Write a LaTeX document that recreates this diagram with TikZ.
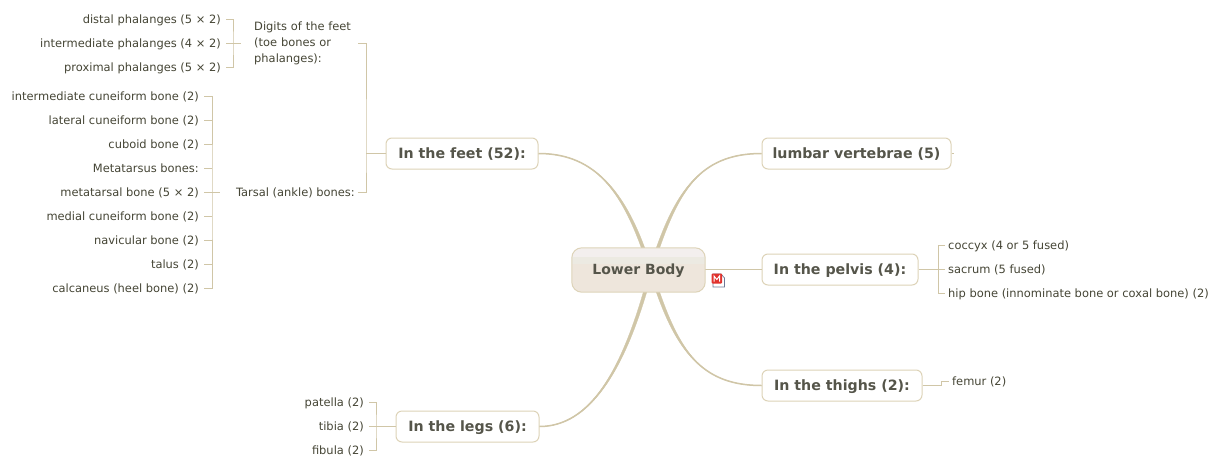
\documentclass[tikz,border=0pt]{standalone}
\usepackage{fontspec}
\setmainfont{DejaVu Sans}
\definecolor{lin}{HTML}{D0C6A7}
\definecolor{edge}{HTML}{DDD3B8}
\definecolor{txt}{HTML}{454535}
\definecolor{btxt}{HTML}{55554A}
\definecolor{rootfill}{RGB}{238,230,220}
\definecolor{roottop}{RGB}{243,239,238}
\definecolor{rootmid}{RGB}{236,234,226}
\definecolor{iconred}{RGB}{225,50,45}
\definecolor{iconedge}{RGB}{110,120,150}
\begin{document}
\begin{tikzpicture}[x=1pt,y=-1pt,
  leafl/.style={anchor=east,inner xsep=5pt,inner ysep=1pt,text=txt,text height=9.5pt,text depth=1pt,font=\fontsize{11.45}{14}\selectfont},
  leafr/.style={anchor=west,inner xsep=3pt,inner ysep=1pt,text=txt,text height=9.5pt,text depth=1pt,font=\fontsize{11.45}{14}\selectfont},
  topic/.style={draw=edge,line width=1pt,rounded corners=6pt,fill=white,text=btxt,inner sep=0pt,text height=11.5pt,text depth=1.5pt,minimum height=31pt,font=\bfseries\fontsize{14.2}{17}\selectfont},
  conn/.style={draw=lin,line width=1pt},
  curve/.style={draw=lin,line width=1.5pt},
  taper/.style={draw=lin,fill=lin,line width=0.3pt}]
\useasboundingbox (0,0) rectangle (1226,469);
\fill[white] (0,0) rectangle (1226,469);
% root
\node[minimum width=133pt,minimum height=44pt,inner sep=0pt] (root) at (638.5,270) {};
% topics
\node[topic,minimum width=189pt] (lumbar) at (856.5,153.5) {lumbar vertebrae (5)};
\node[topic,minimum width=156pt] (pelvis) at (840,269.5) {In the pelvis (4):};
\node[topic,minimum width=160pt] (thighs) at (842,385.5) {In the thighs (2):};
\node[topic,minimum width=152pt] (feet) at (462,153.5) {In the feet (52):};
\node[topic,minimum width=143pt] (legs) at (467.5,426.5) {In the legs (6):};
% curves
\draw[curve] ([xshift=4.5pt]root.north) .. controls (620,185) and (590,153.5) .. (feet.east);
\draw[curve] ([xshift=19.5pt]root.north) .. controls (680,185) and (705,153.5) .. (lumbar.west);
\draw[curve] ([xshift=19.5pt]root.south) .. controls (680,355) and (705,385.5) .. (thighs.west);
\draw[curve] ([xshift=6.5pt]root.south) .. controls (622,370) and (590,426.5) .. (legs.east);
\draw[taper] ([xshift=2.8pt]root.north) .. controls (618.5,185) and (590,153) .. (feet.east) .. controls (590,154) and (621.5,185) .. ([xshift=6.2pt]root.north) -- cycle;
\draw[taper] ([xshift=17.8pt]root.north) .. controls (678.5,185) and (705,154) .. (lumbar.west) .. controls (705,153) and (681.5,185) .. ([xshift=21.2pt]root.north) -- cycle;
\draw[taper] ([xshift=17.8pt]root.south) .. controls (678.5,355) and (705,385) .. (thighs.west) .. controls (705,386) and (681.5,355) .. ([xshift=21.2pt]root.south) -- cycle;
\draw[taper] ([xshift=4.8pt]root.south) .. controls (620.5,370) and (590,426) .. (legs.east) .. controls (590,427) and (623.5,370) .. ([xshift=8.2pt]root.south) -- cycle;
\draw[lin,line width=1.6pt] (root.east |- pelvis.west) -- (pelvis.west);
% root body
\begin{scope}
\clip[rounded corners=10pt] (root.north west) rectangle (root.south east);
\fill[rootfill] (root.north west) rectangle (root.south east);
\fill[roottop] (root.north west) rectangle ([yshift=-9pt]root.north east);
\fill[rootmid] ([yshift=-9pt]root.north west) rectangle ([yshift=-16pt]root.north east);
\end{scope}
\draw[edge,line width=1pt,rounded corners=10pt] (root.north west) rectangle (root.south east);
\node[text=btxt,font=\bfseries\fontsize{14}{17}\selectfont,inner sep=0pt,text height=11pt,text depth=1.5pt] (rootlabel) at (root.center) {Lower Body};
% icon
\draw[draw=iconedge,fill=white,line width=0.7pt] (713,274) -- (721,274) -- (724.5,278) -- (724.5,287) -- (713,287) -- cycle;
\fill[iconred,rounded corners=1pt] (711.5,273.5) rectangle (722,283.5);
\draw[white,line width=1pt] (714,281.5) -- (714,276) -- (716.8,279.5) -- (719.5,276) -- (719.5,281.5);
% right leaves
\node[leafr] (coccyx) at (945,245.5) {coccyx (4 or 5 fused)};
\node[leafr] (sacrum) at (945,269.5) {sacrum (5 fused)};
\node[leafr] (hip) at (945,293.5) {hip bone (innominate bone or coxal bone) (2)};
\node[leafr] (femur) at (949,381) {femur (2)};
\coordinate (lumbarend) at (954,153.5);
\draw[conn] (lumbar.east) -- (lumbarend);
\coordinate (pk) at (938,269.5);
\draw[conn] (coccyx.west) -| (pk) |- (hip.west);
\draw[conn] (pelvis.east) -- (sacrum.west);
\coordinate (fm) at (941,381);
\draw[conn] (thighs.east) -- (fm |- thighs.east) -- (fm) -- (femur.west);
% legs leaves
\node[leafl] (patella) at (369,402.5) {patella (2)};
\node[leafl] (tibia) at (369,426.5) {tibia (2)};
\node[leafl] (fibula) at (369,450.5) {fibula (2)};
\coordinate (lk) at (376,426.5);
\draw[conn] (patella.east) -| (lk) |- (fibula.east);
\draw[conn] (tibia.east) -- (legs.west);
% feet structure
\node[leafl,inner xsep=3pt] (tarsal) at (358,192) {Tarsal (ankle) bones:};
\node[anchor=west,inner sep=0pt,align=left,text=txt,font=\fontsize{11.45}{16}\selectfont,text width=104pt] (digits) at (254,43) {Digits of the feet\\(toe bones or\\phalanges):};
\coordinate (fk) at (366,153.5);
\draw[conn] (digits.east) -| (fk) |- (tarsal.east);
\draw[conn] (fk) -- (feet.west);
% digits leaves
\node[leafl] (d1) at (226,19) {distal phalanges (5 × 2)};
\node[leafl] (d2) at (226,43) {intermediate phalanges (4 × 2)};
\node[leafl] (d3) at (226,67) {proximal phalanges (5 × 2)};
\coordinate (dk) at (233,43);
\draw[conn] (d1.east) -| (dk) |- (d3.east);
\draw[conn] (d2.east) -- ([xshift=-13pt]digits.west);
% tarsal leaves
\node[leafl] (t1) at (204,96) {intermediate cuneiform bone (2)};
\node[leafl] (t2) at (204,120) {lateral cuneiform bone (2)};
\node[leafl] (t3) at (204,144) {cuboid bone (2)};
\node[leafl] (t4) at (204,168) {Metatarsus bones:};
\node[leafl] (t5) at (204,192) {metatarsal bone (5 × 2)};
\node[leafl] (t6) at (204,216) {medial cuneiform bone (2)};
\node[leafl] (t7) at (204,240) {navicular bone (2)};
\node[leafl] (t8) at (204,264) {talus (2)};
\node[leafl] (t9) at (204,288) {calcaneus (heel bone) (2)};
\coordinate (tk) at (212,192);
\draw[conn] (t1.east) -| (tk) |- (t9.east);
\foreach \n in {t2,t3,t4,t6,t7,t8} \draw[conn] (\n.east) -- (\n.east -| tk);
\draw[conn] (t5.east) -- ([xshift=8pt]tk);
\end{tikzpicture}
\end{document}
